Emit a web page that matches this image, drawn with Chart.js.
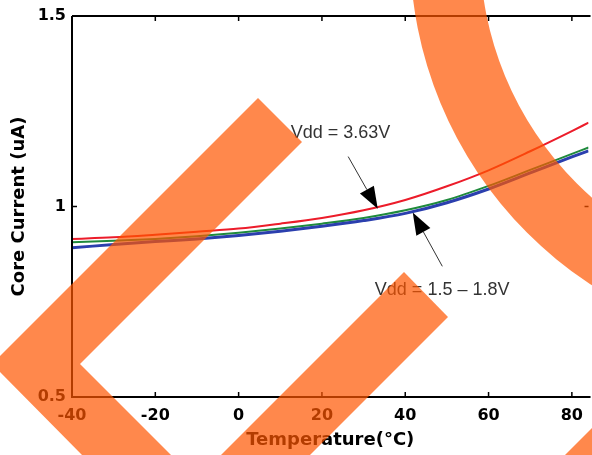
<!DOCTYPE html>
<html lang="en">
<head>
    <meta charset="UTF-8">
    <title>Core Current vs Temperature</title>
    <script src="https://cdn.jsdelivr.net/npm/chart.js"></script>
    <style>
        html, body { margin: 0; padding: 0; background: #fff; overflow: hidden; }
        #wrap { width: 592px; height: 455px; position: relative; }
    </style>
</head>
<body>
<div id="wrap"><canvas id="coreChart"></canvas></div>

<script>
    // temperature points (degC) and current readings (uA)
    const temps = [-40, -30, -20, -10, 0, 10, 20, 30, 40, 50, 60, 70, 80, 84];
    const vdd363 = [0.915, 0.919, 0.926, 0.934, 0.942, 0.955, 0.970, 0.990, 1.017, 1.053, 1.095, 1.145, 1.198, 1.220];
    const vdd18 = [0.906, 0.910, 0.915, 0.922, 0.931, 0.942, 0.955, 0.970, 0.990, 1.017, 1.054, 1.096, 1.138, 1.155];
    const vdd15 = [0.892, 0.900, 0.908, 0.915, 0.924, 0.935, 0.948, 0.963, 0.982, 1.010, 1.046, 1.088, 1.130, 1.146];

    const xTicks = [-40, -20, 0, 20, 40, 60, 80];
    const yTicks = [0.5, 1, 1.5];

    // annotation text + arrow, in data units
    const notes = [
        { text: 'Vdd = 3.63V', at: [12.5, 1.194], from: [26.3, 1.131], to: [33.4, 0.994] },
        { text: 'Vdd = 1.5 \u2013 1.8V', at: [32.7, 0.782], from: [48.9, 0.843], to: [41.8, 0.984] }
    ];

    Chart.defaults.font.family = 'DejaVu Sans';
    Chart.defaults.color = '#000';

    const pts = (arr) => temps.map((t, i) => ({ x: t, y: arr[i] }));

    function arrow(ctx, x1, y1, x2, y2) {
        const a = Math.atan2(y2 - y1, x2 - x1);
        const len = 22, hw = 8;
        const bx = x2 - len * Math.cos(a), by = y2 - len * Math.sin(a);
        ctx.strokeStyle = '#333';
        ctx.lineWidth = 1;
        ctx.beginPath();
        ctx.moveTo(x1, y1);
        ctx.lineTo(bx, by);
        ctx.stroke();
        ctx.fillStyle = '#000';
        ctx.beginPath();
        ctx.moveTo(x2, y2);
        ctx.lineTo(bx + hw * Math.sin(a), by - hw * Math.cos(a));
        ctx.lineTo(bx - hw * Math.sin(a), by + hw * Math.cos(a));
        ctx.closePath();
        ctx.fill();
    }

    const framePlugin = {
        id: 'frame',
        afterDatasetsDraw(chart) {
            const { ctx, chartArea: ca, scales } = chart;
            ctx.save();
            ctx.strokeStyle = '#000';
            ctx.lineWidth = 2;
            ctx.beginPath();
            ctx.moveTo(ca.left, ca.top);
            ctx.lineTo(ca.left, ca.bottom);
            ctx.lineTo(ca.right + 2, ca.bottom);
            ctx.moveTo(ca.left, ca.top);
            ctx.lineTo(ca.right + 2, ca.top);
            ctx.stroke();
            // inward ticks
            ctx.lineWidth = 1.5;
            ctx.beginPath();
            xTicks.forEach(v => {
                const px = scales.x.getPixelForValue(v);
                ctx.moveTo(px, ca.bottom); ctx.lineTo(px, ca.bottom - 5);
                ctx.moveTo(px, ca.top); ctx.lineTo(px, ca.top + 5);
            });
            yTicks.forEach(v => {
                const py = scales.y.getPixelForValue(v);
                ctx.moveTo(ca.left, py); ctx.lineTo(ca.left + 5, py);
                ctx.moveTo(ca.right, py); ctx.lineTo(ca.right - 4, py);
            });
            ctx.stroke();
            ctx.restore();
        },
        afterDraw(chart) {
            const { ctx, scales } = chart;
            ctx.save();
            notes.forEach(n => {
                const sx = (v) => scales.x.getPixelForValue(v);
                const sy = (v) => scales.y.getPixelForValue(v);
                ctx.font = '18px "Liberation Sans"';
                ctx.fillStyle = '#333';
                ctx.textBaseline = 'middle';
                ctx.textAlign = 'left';
                ctx.fillText(n.text, sx(n.at[0]), sy(n.at[1]));
                arrow(ctx, sx(n.from[0]), sy(n.from[1]), sx(n.to[0]), sy(n.to[1]));
            });

            // orange watermark laid over the whole picture
            ctx.fillStyle = 'rgba(255, 86, 0, 0.7)';
            ctx.beginPath();
            ctx.moveTo(258, 98); ctx.lineTo(302, 142); ctx.lineTo(80, 364);
            ctx.lineTo(171, 455); ctx.lineTo(82, 455); ctx.lineTo(-8, 364);
            ctx.closePath();
            ctx.fill();
            ctx.beginPath();
            ctx.moveTo(404, 272); ctx.lineTo(448, 317); ctx.lineTo(310, 455); ctx.lineTo(221, 455);
            ctx.closePath();
            ctx.fill();
            ctx.beginPath();
            ctx.arc(810, -50, 400, 0, Math.PI * 2);
            ctx.arc(810, -50, 330, 0, Math.PI * 2, true);
            ctx.fill();
            ctx.beginPath();
            ctx.moveTo(565, 455); ctx.lineTo(592, 428); ctx.lineTo(592, 455);
            ctx.closePath();
            ctx.fill();
            ctx.restore();
        }
    };

    new Chart(document.getElementById('coreChart'), {
        type: 'line',
        data: {
            datasets: [
                { label: 'Vdd = 1.5V', data: pts(vdd15), borderColor: '#2b3fae', borderWidth: 3 },
                { label: 'Vdd = 1.8V', data: pts(vdd18), borderColor: '#1f8a3c', borderWidth: 2 },
                { label: 'Vdd = 3.63V', data: pts(vdd363), borderColor: '#ec1c2a', borderWidth: 2 }
            ]
        },
        options: {
            responsive: true, maintainAspectRatio: false,
            animation: false,
            layout: { padding: { top: 16, left: 0, right: 0, bottom: 0 } },
            elements: { point: { radius: 0 }, line: { cubicInterpolationMode: 'monotone' } },
            plugins: { legend: { display: false }, tooltip: { enabled: false } },
            scales: {
                x: {
                    type: 'linear', min: -40, max: 84,
                    afterBuildTicks: (s) => { s.ticks = xTicks.map(v => ({ value: v })); },
                    afterFit: (s) => { s.height = 58; },
                    grid: { display: false, drawTicks: false },
                    border: { display: false },
                    ticks: { padding: 9, font: { size: 16, weight: 'bold' }, callback: (v) => String(v) },
                    title: { display: true, text: 'Temperature(\u00b0C)', padding: { top: 0, bottom: 4 }, font: { size: 18, weight: 'bold' } }
                },
                y: {
                    min: 0.5, max: 1.5,
                    afterBuildTicks: (s) => { s.ticks = yTicks.map(v => ({ value: v })); },
                    afterFit: (s) => { s.width = 72; },
                    grid: { display: false, drawTicks: false },
                    border: { display: false },
                    ticks: { padding: 6, font: { size: 16, weight: 'bold' }, callback: (v) => String(v) },
                    title: { display: true, text: 'Core Current (uA)', padding: { top: 9, bottom: 0 }, font: { size: 18, weight: 'bold' } }
                }
            }
        },
        plugins: [framePlugin]
    });
</script>
</body>
</html>
